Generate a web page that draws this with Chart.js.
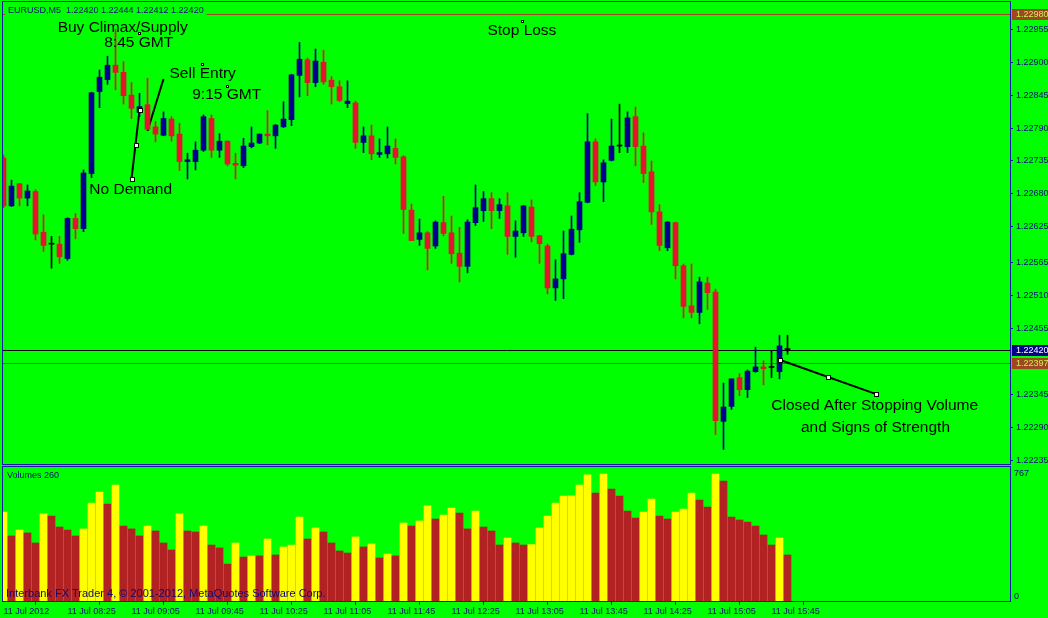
<!DOCTYPE html>
<html><head><meta charset="utf-8">
<script src="https://cdn.jsdelivr.net/npm/chart.js@4/dist/chart.umd.min.js"></script>
<style>
html,body{margin:0;padding:0;background:#00ff00;width:1048px;height:618px;overflow:hidden}
#c1{position:absolute;left:0;top:0}
#c2{position:absolute;left:0;top:466px}
</style></head><body>
<canvas id="c1" width="1048" height="466"></canvas>
<canvas id="c2" width="1048" height="152"></canvas>
<script>
// ---------- data (EURUSD M5, 11 Jul 2012, bars 07:45 .. 15:55) ----------
const opens = [1.22740,1.22660,1.22697,1.22673,1.22684,1.22616,1.22596,1.22596,1.22572,1.22639,
1.22622,1.22714,1.22851,1.22871,1.22895,1.22883,1.22845,1.22816,1.22829,1.22792,
1.22778,1.22805,1.22780,1.22734,1.22734,1.22753,1.22806,1.22753,1.22768,1.22731,
1.22727,1.22759,1.22765,1.22780,1.22777,1.22792,1.22804,1.22878,1.22904,1.22866,
1.22900,1.22870,1.22859,1.22831,1.22832,1.22766,1.22777,1.22746,1.22747,1.22756,
1.22742,1.22653,1.22604,1.22615,1.22593,1.22632,1.22615,1.22581,1.22559,1.22632,
1.22652,1.22672,1.22652,1.22660,1.22609,1.22615,1.22658,1.22610,1.22593,1.22523,
1.22538,1.22579,1.22620,1.22666,1.22767,1.22700,1.22736,1.22760,1.22759,1.22809,
1.22760,1.22717,1.22650,1.22590,1.22632,1.22560,1.22493,1.22482,1.22531,1.22516,
1.22300,1.22325,1.22373,1.22353,1.22383,1.22391,1.22390,1.22383,1.22420];
const highs = [1.22745,1.22703,1.22697,1.22695,1.22687,1.22645,1.22609,1.22609,1.22640,1.22647,
1.22720,1.22850,1.22887,1.22910,1.22955,1.22901,1.22866,1.22848,1.22873,1.22801,
1.22817,1.22809,1.22798,1.22748,1.22767,1.22812,1.22812,1.22781,1.22769,1.22748,
1.22773,1.22792,1.22780,1.22819,1.22796,1.22834,1.22880,1.22933,1.22907,1.22922,
1.22920,1.22876,1.22869,1.22869,1.22835,1.22792,1.22795,1.22772,1.22792,1.22772,
1.22744,1.22663,1.22638,1.22617,1.22635,1.22676,1.22643,1.22624,1.22637,1.22695,
1.22684,1.22682,1.22672,1.22682,1.22635,1.22661,1.22670,1.22611,1.22596,1.22570,
1.22618,1.22643,1.22682,1.22814,1.22772,1.22737,1.22805,1.22830,1.22817,1.22825,
1.22782,1.22735,1.22662,1.22634,1.22633,1.22563,1.22563,1.22541,1.22541,1.22521,
1.22364,1.22371,1.22380,1.22386,1.22424,1.22401,1.22418,1.22444,1.22444];
const lows = [1.22657,1.22659,1.22660,1.22660,1.22603,1.22584,1.22556,1.22564,1.22569,1.22605,
1.22617,1.22707,1.22824,1.22863,1.22854,1.22830,1.22806,1.22809,1.22787,1.22767,
1.22777,1.22768,1.22719,1.22705,1.22720,1.22751,1.22741,1.22741,1.22727,1.22705,
1.22724,1.22757,1.22764,1.22762,1.22756,1.22791,1.22794,1.22842,1.22844,1.22859,
1.22863,1.22830,1.22834,1.22824,1.22756,1.22749,1.22737,1.22741,1.22740,1.22730,
1.22614,1.22602,1.22594,1.22553,1.22589,1.22610,1.22564,1.22533,1.22548,1.22627,
1.22634,1.22622,1.22639,1.22579,1.22574,1.22609,1.22600,1.22564,1.22513,1.22502,
1.22505,1.22578,1.22599,1.22665,1.22694,1.22667,1.22735,1.22749,1.22749,1.22727,
1.22699,1.22629,1.22585,1.22585,1.22538,1.22473,1.22473,1.22463,1.22487,1.22278,
1.22253,1.22320,1.22343,1.22340,1.22382,1.22361,1.22373,1.22371,1.22412];
const closes = [1.22660,1.22693,1.22673,1.22685,1.22613,1.22594,1.22596,1.22575,1.22639,1.22622,
1.22715,1.22849,1.22875,1.22895,1.22883,1.22844,1.22823,1.22826,1.22788,1.22780,
1.22806,1.22777,1.22734,1.22737,1.22753,1.22809,1.22753,1.22768,1.22730,1.22728,
1.22760,1.22765,1.22780,1.22777,1.22795,1.22805,1.22879,1.22905,1.22866,1.22902,
1.22867,1.22859,1.22836,1.22835,1.22766,1.22777,1.22747,1.22749,1.22760,1.22741,
1.22654,1.22602,1.22615,1.22589,1.22633,1.22614,1.22580,1.22559,1.22633,1.22657,
1.22672,1.22652,1.22662,1.22609,1.22618,1.22660,1.22609,1.22597,1.22523,1.22538,
1.22580,1.22621,1.22667,1.22767,1.22700,1.22732,1.22760,1.22760,1.22807,1.22759,
1.22714,1.22650,1.22594,1.22633,1.22560,1.22492,1.22482,1.22533,1.22515,1.22301,
1.22324,1.22371,1.22353,1.22384,1.22391,1.22388,1.22390,1.22426,1.22420];
const volumes = [529,379,416,398,335,517,504,435,416,379,
423,585,654,579,698,441,423,379,441,410,
335,291,517,410,404,441,322,304,203,335,
247,254,254,360,260,310,322,498,360,429,
404,335,285,272,373,310,329,241,266,254,
460,441,473,567,485,510,554,523,423,535,
435,410,322,366,335,322,325,429,504,585,
629,631,698,761,648,767,673,629,535,491,
529,610,504,485,529,548,648,604,560,767,
723,498,479,466,441,385,322,366,260];

const xTickIndex  = [0,8,16,24,32,40,48,56,64,72,80,88,96];
const xTickLabels = ['11 Jul 2012','11 Jul 08:25','11 Jul 09:05','11 Jul 09:45','11 Jul 10:25','11 Jul 11:05',
  '11 Jul 11:45','11 Jul 12:25','11 Jul 13:05','11 Jul 13:45','11 Jul 14:25','11 Jul 15:05','11 Jul 15:45'];
const priceTicks = [1.22955,1.22900,1.22845,1.22790,1.22735,1.22680,1.22625,1.22565,1.22510,1.22455,1.22345,1.22290,1.22235];
const volumeTicks = [0,767];

// horizontal price lines: stop loss, bid, close level
const hLinePrices = [1.22980, 1.22420, 1.22397];
const hLineKinds  = ['level','bid','level'];

// trend lines (bar index, price)
const trendX = [[16,17],[18,20],[97,109]];
const trendY = [[1.22705,1.22820],[1.22785,1.22872],[1.22403,1.22346]];
const trendSelected = [true,false,true];

// text objects (bar index, price of text centre)
const noteTexts = ['Buy Climax/Supply','8:45 GMT','Sell Entry','9:15 GMT','No Demand','Stop Loss','Closed After Stopping Volume','and Signs of Strength'];
const noteX = [14.9,16.9,24.9,27.9,15.9,64.8,108.9,109.0];
const noteY = [1.22957,1.22932,1.22880,1.22845,1.22687,1.22952,1.22326,1.22289];
const anchorX = [16.9,24.8,27.96,64.84];
const anchorY = [1.22948,1.22897,1.22860,1.22969];

// ---------- styles ----------
const LIME='#00ff00', FRAME='#1a1aa8', TXT='#0a0a78', BULL='#00008f', BEAR='#e6142d', DOJI='#000000';
const LEVEL='#a0461e', VOL_UP='#ffff00', VOL_DN='#b22222';
const FONT='"Liberation Sans", Arial, sans-serif';
const X_MIN=-0.0625, X_MAX=125.8125, Y_MIN=1.222288, Y_MAX=1.230006, V_MIN=-28.2, V_MAX=810.8;

const idx = opens.map((_,i)=>i);
const cColor = i => closes[i]>opens[i]?BULL:(closes[i]<opens[i]?BEAR:DOJI);
const vColor = i => (i>0 && volumes[i]>volumes[i-1]) || i===0 ? VOL_UP : VOL_DN;

function noPad(s){ s.paddingTop=0; s.paddingBottom=0; s.paddingLeft=0; s.paddingRight=0; }

const mainOverlay = {
  id:'mainOverlay',
  beforeDatasetsDraw(chart){
    const {ctx, chartArea:a, scales:{x,y}} = chart;
    ctx.save();
    ctx.beginPath(); ctx.rect(a.left,a.top,a.right-a.left,a.bottom-a.top); ctx.clip();
    hLinePrices.forEach((p,i)=>{
      const py=Math.round(y.getPixelForValue(p))+0.5;
      ctx.strokeStyle = hLineKinds[i]==='bid' ? '#000000' : LEVEL;
      ctx.lineWidth=1; ctx.beginPath(); ctx.moveTo(a.left,py); ctx.lineTo(a.right,py); ctx.stroke();
    });
    ctx.strokeStyle='#000'; ctx.lineWidth=2; ctx.lineCap='butt';
    trendX.forEach((tx,i)=>{
      ctx.beginPath();
      ctx.moveTo(x.getPixelForValue(tx[0]), y.getPixelForValue(trendY[i][0]));
      ctx.lineTo(x.getPixelForValue(tx[1]), y.getPixelForValue(trendY[i][1]));
      ctx.stroke();
    });
    ctx.restore();
  },
  afterDatasetsDraw(chart){
    const {ctx, chartArea:a, scales:{x,y}} = chart;
    ctx.save();
    // selection handles of trend lines
    trendX.forEach((tx,i)=>{
      if(!trendSelected[i]) return;
      const p0=[x.getPixelForValue(tx[0]), y.getPixelForValue(trendY[i][0])];
      const p1=[x.getPixelForValue(tx[1]), y.getPixelForValue(trendY[i][1])];
      [p0,[(p0[0]+p1[0])/2,(p0[1]+p1[1])/2],p1].forEach(p=>{
        const cx=Math.round(p[0]), cy=Math.round(p[1]);
        ctx.fillStyle='#000'; ctx.fillRect(cx-2,cy-2,5,5);
        ctx.fillStyle='#fff'; ctx.fillRect(cx-1,cy-1,3,3);
      });
    });
    // text objects
    ctx.fillStyle='#000'; ctx.font='15.5px '+FONT; ctx.textAlign='center'; ctx.textBaseline='middle';
    noteTexts.forEach((t,i)=>ctx.fillText(t, x.getPixelForValue(noteX[i]), y.getPixelForValue(noteY[i])));
    anchorX.forEach((ax,i)=>{
      const cx=Math.round(x.getPixelForValue(ax)), cy=Math.round(y.getPixelForValue(anchorY[i]));
      ctx.fillStyle='#000'; ctx.fillRect(cx-1,cy-1,3,3);
      ctx.fillStyle='#fff'; ctx.fillRect(cx,cy,1,1);
    });
    ctx.restore();
  },
  afterDraw(chart){
    const {ctx, chartArea:a, scales:{y}} = chart;
    ctx.save();
    // price labels on the right axis for the horizontal lines
    ctx.font='9px '+FONT; ctx.textAlign='left'; ctx.textBaseline='middle';
    hLinePrices.forEach((p,i)=>{
      const py=Math.round(y.getPixelForValue(p));
      const bid = hLineKinds[i]==='bid';
      ctx.fillStyle = bid ? '#00008b' : LEVEL;
      ctx.fillRect(a.right+2, py-5, chart.width-a.right-2, 11);
      ctx.fillStyle = bid ? '#ffffff' : '#c8f060';
      ctx.fillText(p.toFixed(5), a.right+6, py+0.5);
    });
    // frame
    ctx.strokeStyle=FRAME; ctx.lineWidth=1;
    ctx.strokeRect(a.left-0.5, a.top-0.5, a.right-a.left+1, a.bottom-a.top+1);
    // title
    const n=opens.length-1;
    const title='EURUSD,M5  '+[opens[n],highs[n],lows[n],closes[n]].map(v=>v.toFixed(5)).join(' ');
    ctx.font='9px '+FONT;
    const w=ctx.measureText(title).width;
    ctx.fillStyle=LIME; ctx.fillRect(a.left+2, a.top+3, w+6, 12);
    ctx.fillStyle=TXT; ctx.fillText(title, a.left+5, a.top+9);
    ctx.restore();
  }
};

new Chart(document.getElementById('c1'),{
  type:'bar',
  data:{datasets:[
    {label:'wicks', data: idx.map(i=>({x:i,y:[lows[i],highs[i]]})), backgroundColor: idx.map(cColor),
     barThickness:1, grouped:false, order:2, minBarLength:1},
    {label:'bodies', data: idx.map(i=>({x:i,y:[opens[i],closes[i]]})), backgroundColor: idx.map(cColor),
     barThickness:5, grouped:false, order:1, minBarLength:1}
  ]},
  options:{
    responsive:false, animation:false, events:[],
    layout:{padding:{left:3,top:2,right:0,bottom:2}},
    plugins:{legend:{display:false},tooltip:{enabled:false}},
    scales:{
      x:{type:'linear',min:X_MIN,max:X_MAX,display:false,offset:false},
      y:{position:'right',min:Y_MIN,max:Y_MAX,
         afterBuildTicks(s){ s.ticks = priceTicks.map(v=>({value:v})); },
         afterFit(s){ s.width=38; noPad(s); },
         ticks:{callback:v=>Number(v).toFixed(5), color:TXT, font:{family:FONT,size:9}, padding:3, autoSkip:false},
         grid:{drawOnChartArea:false, drawTicks:true, tickLength:3, color:FRAME},
         border:{display:false}}
    }
  },
  plugins:[mainOverlay]
});

const volOverlay = {
  id:'volOverlay',
  afterDraw(chart){
    const {ctx, chartArea:a} = chart;
    ctx.save();
    ctx.strokeStyle=FRAME; ctx.lineWidth=1;
    ctx.strokeRect(a.left-0.5, a.top-0.5, a.right-a.left+1, a.bottom-a.top+1);
    ctx.fillStyle=TXT; ctx.textAlign='left'; ctx.textBaseline='middle';
    ctx.font='9px '+FONT;
    ctx.fillText('Volumes '+volumes[volumes.length-1], a.left+4, a.top+9);
    ctx.font='11px '+FONT;
    ctx.fillText('Interbank FX Trader 4, \u00a9 2001-2012, MetaQuotes Software Corp.', a.left+3, a.bottom-7.5);
    ctx.restore();
  }
};

new Chart(document.getElementById('c2'),{
  type:'bar',
  data:{datasets:[
    {label:'Volumes', data: idx.map(i=>({x:i,y:volumes[i]})), backgroundColor: idx.map(vColor),
     barThickness:7, base:V_MIN}
  ]},
  options:{
    responsive:false, animation:false, events:[],
    layout:{padding:{left:3,top:1,right:0,bottom:0}},
    plugins:{legend:{display:false},tooltip:{enabled:false}},
    scales:{
      x:{type:'linear',min:X_MIN,max:X_MAX,offset:false,
         afterBuildTicks(s){ s.ticks = xTickIndex.map(v=>({value:v})); },
         afterFit(s){ s.height=17; noPad(s); },
         ticks:{callback:v=>xTickLabels[xTickIndex.indexOf(v)], align:'start', maxRotation:0, autoSkip:false,
                color:TXT, font:{family:FONT,size:9}, padding:1},
         grid:{drawOnChartArea:false, drawTicks:true, tickLength:4, color:FRAME},
         border:{display:false}},
      y:{position:'right',min:V_MIN,max:V_MAX,
         afterBuildTicks(s){ s.ticks = volumeTicks.map(v=>({value:v})); },
         afterFit(s){ s.width=38; noPad(s); },
         ticks:{color:TXT, font:{family:FONT,size:9}, padding:4, autoSkip:false},
         grid:{drawOnChartArea:false, drawTicks:false},
         border:{display:false}}
    }
  },
  plugins:[volOverlay]
});
</script>
</body></html>
